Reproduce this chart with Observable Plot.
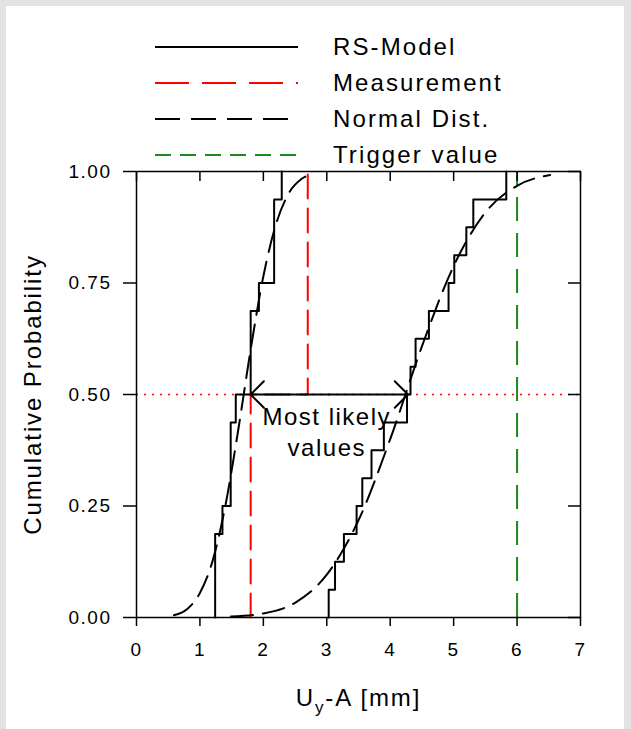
<!DOCTYPE html>
<html><head><meta charset="utf-8">
<script src="https://cdn.jsdelivr.net/npm/d3@7"></script>
<script src="https://cdn.jsdelivr.net/npm/@observablehq/plot@0.6"></script>
<style>
html,body{margin:0;padding:0;background:#e3e3e3;}
#page{position:relative;width:631px;height:729px;overflow:hidden;font-family:"Liberation Sans",Arial,sans-serif;}
#panel{position:absolute;left:6px;top:6px;width:618px;height:740px;background:#fff;}
#chart{position:absolute;left:0;top:0;}
#legend{position:absolute;left:155px;top:29px;}
.row{display:flex;align-items:center;height:36px;}
.row svg{width:143px;height:6px;display:block;overflow:visible}
.row span{margin-left:35px;font-size:24px;letter-spacing:2.1px;color:#000;line-height:36px;}
#chart svg text{letter-spacing:1.5px;}
#chart svg text.title{letter-spacing:1.9px;}
</style></head><body>
<div id="page"><div id="panel"></div><div id="chart"></div><div id="legend"></div></div>
<script>
// ---- data ----
const rsLeft  = [1.24,1.24,1.24,1.355,1.485,1.485,1.485,1.565,1.80,1.80,1.80,1.93,2.17,2.17,2.17,2.29];
const rsRight = [3.03,3.13,3.27,3.47,3.56,3.705,3.90,4.265,4.32,4.40,4.61,4.92,5.01,5.20,5.31,5.83];
const measurements = [1.8, 2.7];
const normLeftX  = [0.59,0.8,1.0,1.2,1.4,1.6,1.8,2.0,2.2,2.4,2.6,2.79];
const normLeftP  = [0.005,0.019,0.055,0.127,0.25,0.417,0.601,0.765,0.882,0.951,0.983,0.995];
const normRightX = [1.49,2.0,2.5,3.0,3.5,4.0,4.5,5.0,5.5,6.0,6.52];
const normRightP = [0.002,0.009,0.033,0.096,0.218,0.400,0.608,0.788,0.908,0.968,0.992];
const triggerValue = [6];
const medianLevel = [0.5];
const arrowEnds = [1.8, 4.28];
const annotationText = ["Most likely\nvalues"];
const annotationAt = [3.0, 0.5];
const xTicks = [0,1,2,3,4,5,6,7];
const yTicks = [0,0.25,0.5,0.75,1];
const xTitleParts = ["U","y","-A [mm]"];
const yTitle = ["Cumulative Probability"];
const legendLabels = ["RS-Model","Measurement","Normal Dist.","Trigger value"];

// ---- build tables ----
function ecdf(vals, set) {
  const s = vals.slice().sort((a,b)=>a-b), n = s.length;
  const pts = [{x:s[0], y:0, set}];
  s.forEach((v,i)=>pts.push({x:v, y:(i+1)/n, set}));
  return pts;
}
const rsPts = [...ecdf(rsLeft,"L"), ...ecdf(rsRight,"R")];
const measPts = ecdf(measurements,"M");
const normPts = [
  ...normLeftX.map((x,i)=>({x, y:normLeftP[i], set:"L"})),
  ...normRightX.map((x,i)=>({x, y:normRightP[i], set:"R"}))
];
const mid = (arrowEnds[0]+arrowEnds[1])/2;
const arrows = arrowEnds.map(e=>({x1:mid, x2:e, y:medianLevel[0]}));

const font = '"Liberation Sans", Arial, sans-serif';
const plot = Plot.plot({
  width: 631, height: 729,
  marginLeft: 136, marginRight: 51, marginTop: 171, marginBottom: 112,
  x: {domain: [0,7]}, y: {domain: [0,1]},
  style: {background: "transparent", fontFamily: font, color: "black", overflow: "visible"},
  marks: [
    Plot.ruleY(medianLevel, {stroke: "red", strokeWidth: 1.5, strokeDasharray: "2,6"}),
    Plot.ruleX(triggerValue, {y1: 0, y2: 1, stroke: "#1a8a1a", strokeWidth: 2, strokeDasharray: "24,12"}),
    Plot.line(measPts, {x: "x", y: "y", curve: "step-after", stroke: "red", strokeWidth: 2, strokeDasharray: "24,10"}),
    Plot.line(normPts, {x: "x", y: "y", z: "set", curve: "monotone-x", stroke: "black", strokeWidth: 2, strokeDasharray: "22,10"}),
    Plot.line(rsPts, {x: "x", y: "y", z: "set", curve: "step-after", stroke: "black", strokeWidth: 2}),
    Plot.arrow(arrows, {x1: "x1", x2: "x2", y1: "y", y2: "y", stroke: "black", strokeWidth: 2, headLength: 14, headAngle: 90}),
    Plot.text(annotationText, {x: () => annotationAt[0], y: () => annotationAt[1], text: d => d, lineAnchor: "top", dy: 8, lineHeight: 1.3, fontSize: 24}),
    Plot.axisX({ticks: xTicks, tickSize: 9, tickPadding: 16, tickFormat: d => String(d), fontSize: 19, strokeWidth: 1.5, label: null}),
    Plot.axisX({anchor: "top", ticks: xTicks, tickSize: 9, dy: 9, tickFormat: () => "", strokeWidth: 1.5, label: null}),
    Plot.axisY({ticks: yTicks, tickSize: 13, tickPadding: 12, tickFormat: d3.format(".2f"), fontSize: 19, strokeWidth: 1.5, label: null}),
    Plot.axisY({anchor: "right", ticks: yTicks, tickSize: 13, dx: -13, tickFormat: () => "", strokeWidth: 1.5, label: null}),
    Plot.frame({stroke: "black", strokeWidth: 1.5}),
    Plot.text([xTitleParts.join("")], {frameAnchor: "bottom", dy: 88, fontSize: 24, className: "title"}),
    Plot.text(yTitle, {frameAnchor: "left", textAnchor: "middle", dx: -103, rotate: -90, fontSize: 24, className: "title"})
  ]
});
document.getElementById("chart").appendChild(plot);

// subscript in x title
plot.querySelectorAll("text").forEach(t => {
  if (t.textContent === xTitleParts.join("")) {
    t.textContent = "";
    const ns = "http://www.w3.org/2000/svg";
    const a = document.createElementNS(ns,"tspan"); a.textContent = xTitleParts[0];
    const b = document.createElementNS(ns,"tspan"); b.textContent = xTitleParts[1];
    b.setAttribute("dy","7"); b.setAttribute("font-size","17");
    const c = document.createElementNS(ns,"tspan"); c.textContent = xTitleParts[2];
    c.setAttribute("dy","-7");
    t.append(a,b,c);
  }
});
plot.querySelectorAll("g.title text, text.title").forEach(t => t.style.letterSpacing = "1.9px");

// legend
const legendStyles = [
  {stroke:"black", dash:null},
  {stroke:"red", dash:"34,13"},
  {stroke:"black", dash:"25,11"},
  {stroke:"#1a8a1a", dash:"16,9"}
];
const leg = document.getElementById("legend");
legendLabels.forEach((lab,i)=>{
  const row = document.createElement("div"); row.className = "row";
  const st = legendStyles[i];
  row.innerHTML = `<svg viewBox="0 0 143 6"><line x1="0" x2="143" y1="3" y2="3" stroke="${st.stroke}" stroke-width="2" ${st.dash?`stroke-dasharray="${st.dash}"`:""}/></svg>`;
  const sp = document.createElement("span"); sp.textContent = lab; row.appendChild(sp);
  leg.appendChild(row);
});
</script>
</body></html>
